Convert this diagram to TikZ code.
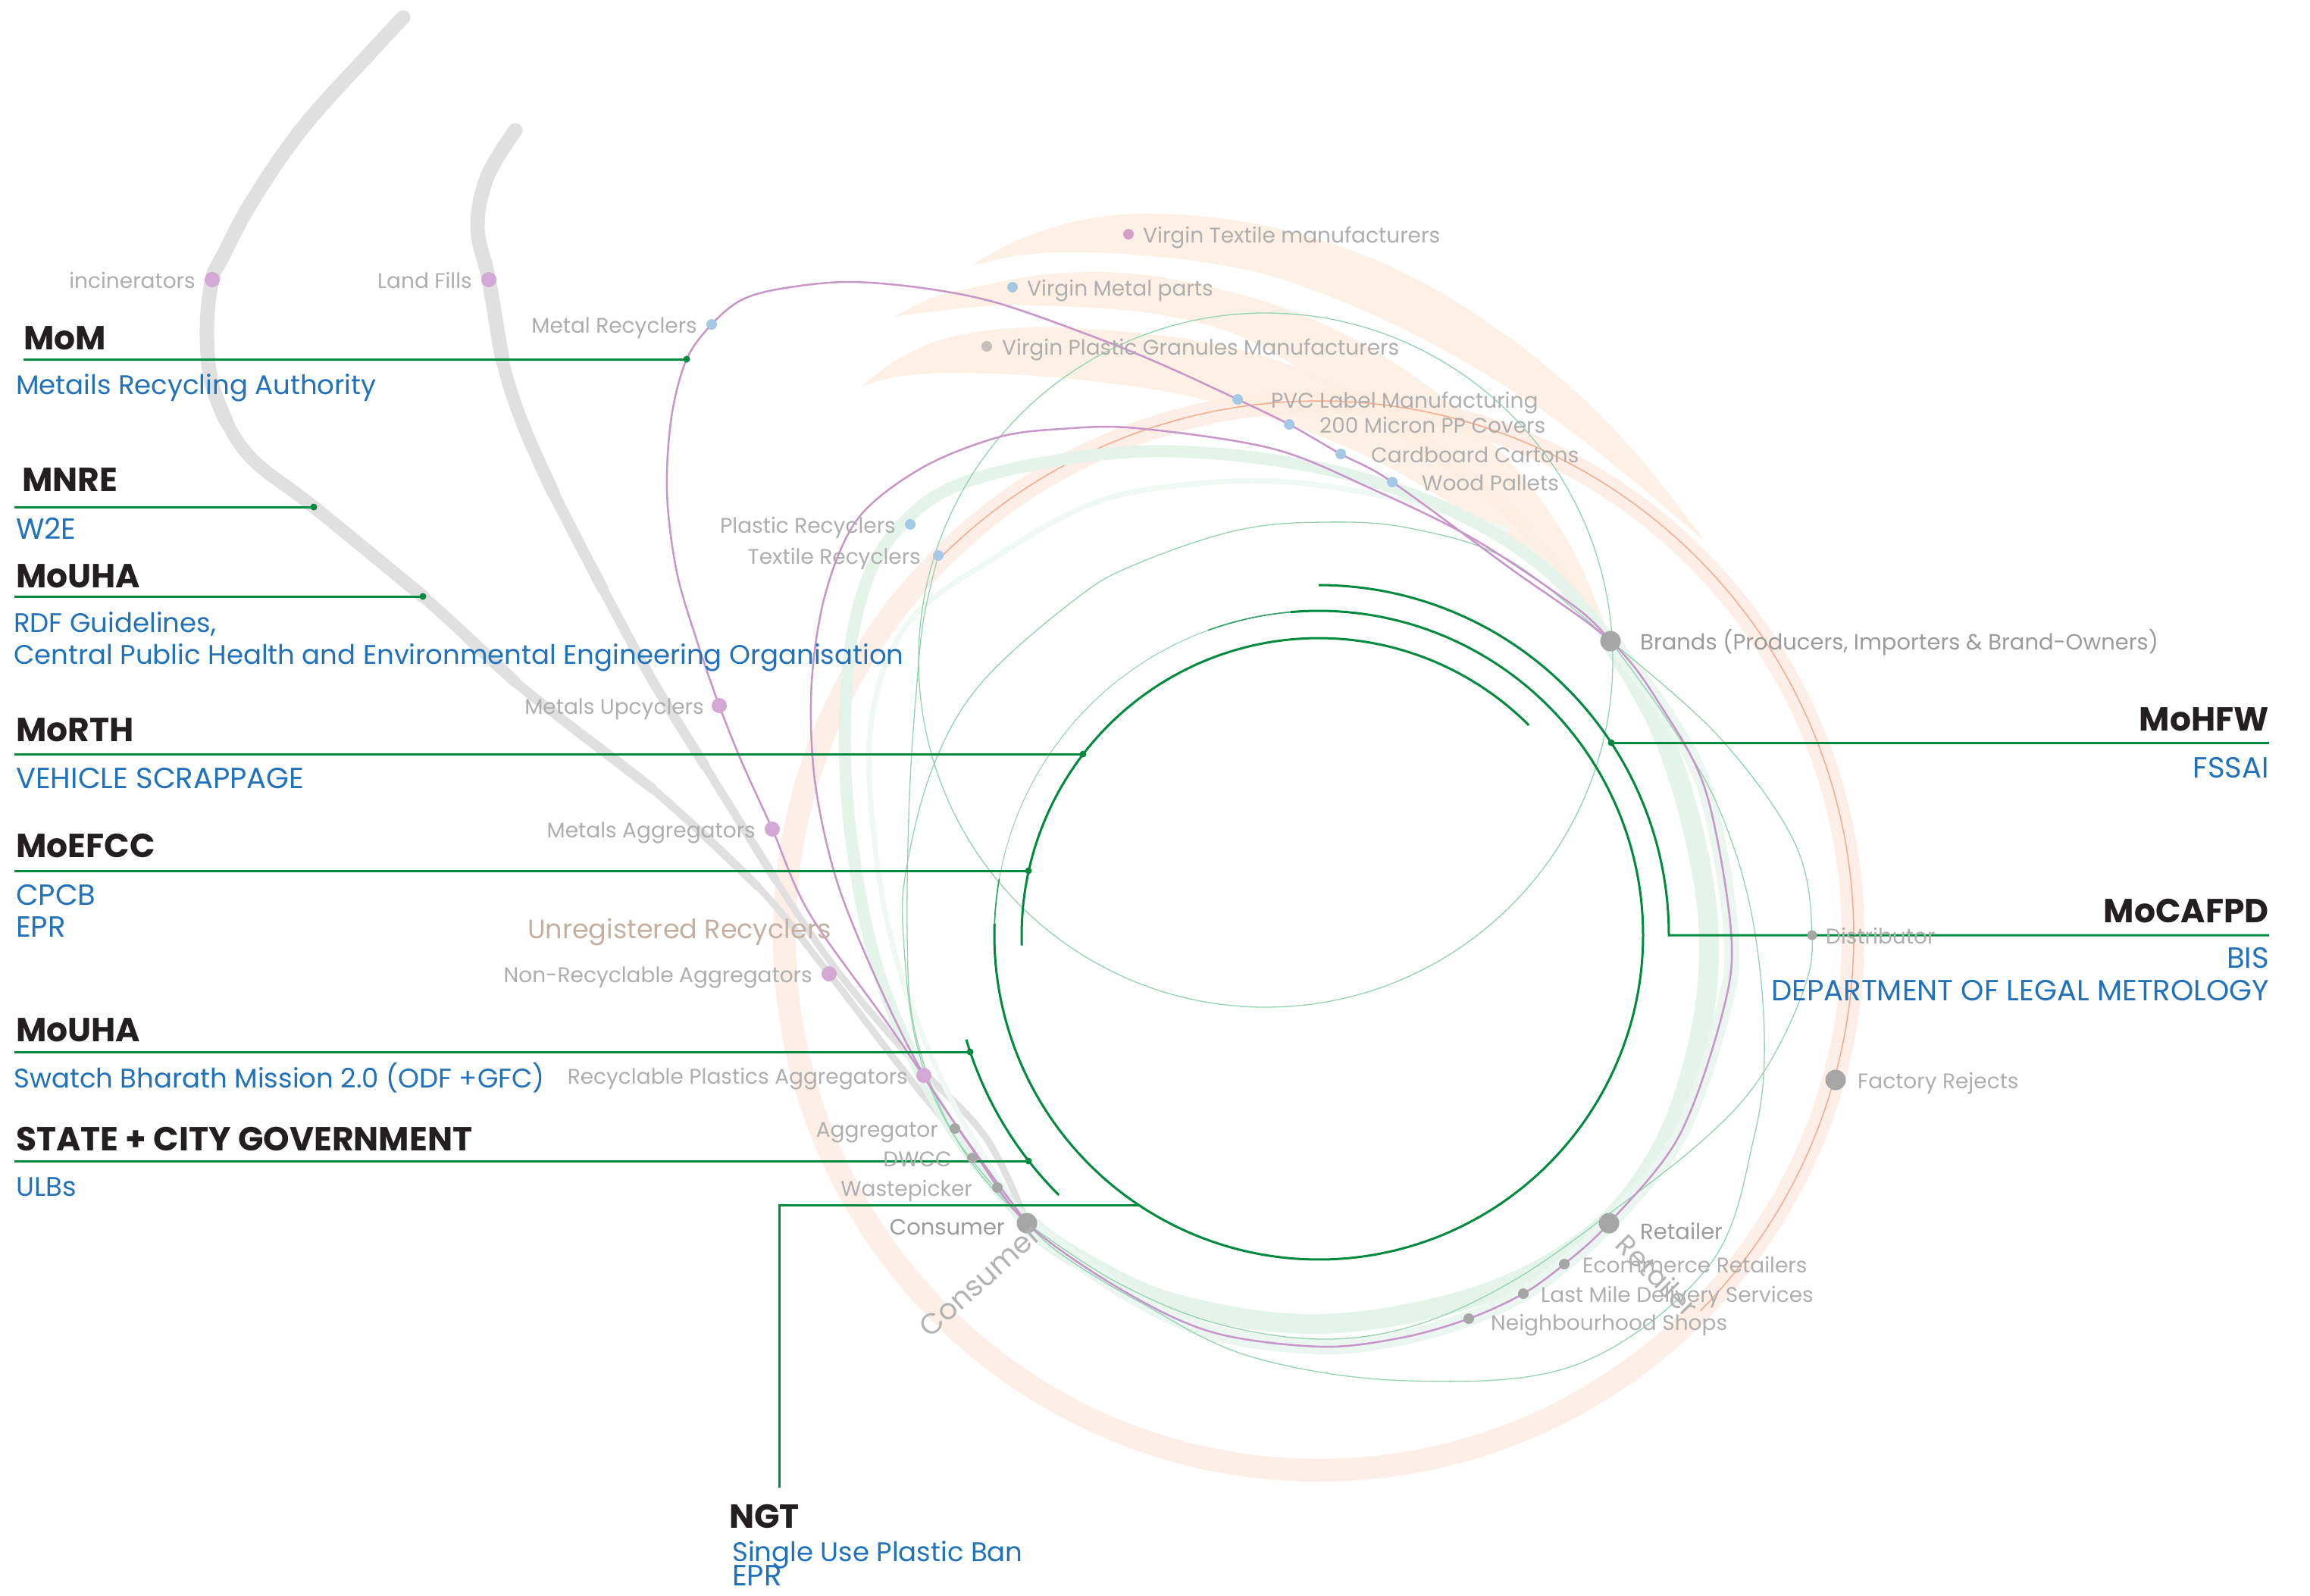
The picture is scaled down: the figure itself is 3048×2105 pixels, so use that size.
\documentclass[tikz,border=0pt]{standalone}
\usepackage{fontspec}
\setmainfont{Poppins}
\usetikzlibrary{calc}
\definecolor{dgreen}{RGB}{0,138,62}
\definecolor{headc}{RGB}{35,31,32}
\definecolor{bluec}{RGB}{33,113,187}
\definecolor{labc}{RGB}{174,174,174}
\definecolor{labdark}{RGB}{155,155,155}
\definecolor{pinkdot}{RGB}{212,168,212}
\definecolor{vtexc}{RGB}{214,160,198}
\definecolor{bluedot}{RGB}{165,200,229}
\definecolor{graydot}{RGB}{166,166,166}
\definecolor{vplc}{RGB}{196,191,186}
\definecolor{purp}{RGB}{200,150,200}
\definecolor{graythick}{RGB}{224,224,224}
\definecolor{peach}{RGB}{253,238,224}
\definecolor{salmon}{RGB}{253,238,232}
\definecolor{orangethin}{RGB}{247,170,140}
\definecolor{lgband}{RGB}{229,244,235}
\definecolor{gthin}{RGB}{148,211,177}
\definecolor{unreg}{RGB}{196,176,162}
\tikzset{
  gline/.style={dgreen, line width=3pt},
  gdot/.style={circle, fill=dgreen, inner sep=0pt, minimum size=9pt},
  pdot/.style={circle, fill=pinkdot, inner sep=0pt, minimum size=20pt},
  bdot/.style={circle, fill=bluedot, inner sep=0pt, minimum size=14pt},
  sdot/.style={circle, fill=graydot, inner sep=0pt, minimum size=14pt},
  bigdot/.style={circle, fill=graydot, inner sep=0pt, minimum size=27pt},
  lab/.style={text=labc, font=\fontsize{28}{34}\selectfont, inner sep=0pt, yshift=-9pt},
  labm/.style={text=labdark, font=\fontsize{29}{34}\selectfont, inner sep=0pt, yshift=-9pt},
  head/.style={text=headc, font=\fontsize{44}{50}\selectfont\bfseries, inner sep=0pt, anchor=base west},
  headr/.style={head, anchor=base east},
  sub/.style={text=bluec, font=\fontsize{35.5}{40}\selectfont, inner sep=0pt, anchor=base west},
  subcaps/.style={sub, font=\fontsize{38.5}{40}\selectfont},
  subr/.style={sub, anchor=base east},
  subcapsr/.style={subcaps, anchor=base east},
  gthinline/.style={gthin, line width=1.3pt},
  grayband/.style={graythick, line cap=round},
  purpline/.style={purp, line width=2.5pt},
  crescent/.style={fill=peach, fill opacity=0.8}
}
\begin{document}
\begin{tikzpicture}[x=1pt,y=-1pt]
\useasboundingbox (0,0) rectangle (3048,2105);
\fill[white] (0,0) rectangle (3048,2105);

% ---- coordinates of the dots
\coordinate (cIncin) at (280,369);
\coordinate (cLand) at (645,369);
\coordinate (cMetRec) at (939,428);
\coordinate (cVTex) at (1489,309);
\coordinate (cVMet) at (1336,379);
\coordinate (cVPla) at (1302,457);
\coordinate (cPVC) at (1633,527);
\coordinate (cPP) at (1701,560);
\coordinate (cCard) at (1769,599);
\coordinate (cWood) at (1837,636);
\coordinate (cPlRec) at (1201,692);
\coordinate (cTxRec) at (1238,733);
\coordinate (cBrands) at (2125,846);
\coordinate (cMetUp) at (949,931);
\coordinate (cMetAgg) at (1019,1094);
\coordinate (cNonRec) at (1094,1285);
\coordinate (cRecPl) at (1219,1419);
\coordinate (cAggr) at (1260,1489);
\coordinate (cDwcc) at (1283,1528);
\coordinate (cWpick) at (1316,1567);
\coordinate (cCons) at (1355,1614);
\coordinate (cRet) at (2123,1614);
\coordinate (cEcom) at (2064,1668);
\coordinate (cLast) at (2010,1707);
\coordinate (cNeigh) at (1938,1740);
\coordinate (cDist) at (2391,1234);
\coordinate (cFact) at (2422,1425);
% green connector points
\coordinate (cMoM) at (906,474);
\coordinate (cMNRE) at (414,669);
\coordinate (cMoUHA) at (558,787);
\coordinate (cMoRTH) at (1429,995);
\coordinate (cMoEFCC) at (1357,1149);
\coordinate (cMoUHAb) at (1280,1388);
\coordinate (cState) at (1357,1532);
\coordinate (cMoHFW) at (2126,980);
\coordinate (cNGT) at (1502.4,1590);

% ---- big salmon ring
\draw[salmon, line width=30pt] (1740,1235) circle[radius=705pt];

% ---- peach crescents
\fill[crescent] plot[smooth, tension=0.6] coordinates {(1283,350) (1340,318) (1420,292) (1500,282) (1600,287) (1700,305) (1820,345) (1940,410) (2060,500) (2160,600) (2250,715)}
  -- plot[smooth, tension=0.6] coordinates {(2250,715) (2150,630) (2040,545) (1920,470) (1800,410) (1680,365) (1580,345) (1480,335) (1400,333) (1340,338) (1283,350)} -- cycle;
\fill[crescent] plot[smooth, tension=0.6] coordinates {(1180,418) (1230,393) (1291,378) (1380,362) (1480,360) (1580,375) (1690,405) (1800,455) (1910,530) (2010,630) (2080,735) (2125,846)}
  -- plot[smooth, tension=0.6] coordinates {(2125,846) (2050,745) (1960,660) (1860,585) (1750,510) (1640,445) (1530,415) (1420,405) (1320,403) (1240,410) (1180,418)} -- cycle;
\fill[crescent] plot[smooth, tension=0.6] coordinates {(1137,510) (1183,475) (1250,446) (1350,432) (1450,435) (1550,445) (1650,465) (1760,505) (1870,565) (1970,645) (2060,745) (2125,846)}
  -- plot[smooth, tension=0.6] coordinates {(2125,846) (2030,750) (1930,675) (1820,610) (1700,560) (1580,525) (1460,505) (1350,495) (1250,492) (1183,497) (1137,510)} -- cycle;

% ---- thin orange arc
\draw[orangethin, line width=1.5pt] plot[domain=135:-44.5, samples=150] ({1740+706*cos(\x)},{1235-706*sin(\x)});

% ---- gray thick bands (tapered by overlapping layers)
\draw[grayband, line width=9pt] plot[smooth, tension=0.6] coordinates {(532,23) (490,68) (400,168) (333,265) (293,340) (cIncin) (273,430) (278,500) (298,555) (335,608) (cMNRE) (cMoUHA) (680,900) (860,1040) (1000,1170) (cNonRec) (1190,1410) (1280,1520) (cCons)};
\draw[grayband, line width=11pt] plot[smooth, tension=0.6] coordinates {(532,23) (490,68) (400,168) (333,265) (293,340) (cIncin) (273,430) (278,500) (298,555) (335,608) (cMNRE) (cMoUHA) (680,900) (860,1040) (1000,1170)};
\draw[grayband, line width=13pt] plot[smooth, tension=0.6] coordinates {(532,23) (490,68) (400,168) (333,265) (293,340) (cIncin) (273,430) (278,500) (298,555) (335,608) (cMNRE) (cMoUHA) (680,900) (860,1040)};
\draw[grayband, line width=15pt] plot[smooth, tension=0.6] coordinates {(532,23) (490,68) (400,168) (333,265) (293,340) (cIncin) (273,430) (278,500) (298,555) (335,608) (cMNRE) (cMoUHA) (680,900)};
\draw[grayband, line width=17pt] plot[smooth, tension=0.6] coordinates {(532,23) (490,68) (400,168) (333,265) (293,340) (cIncin) (273,430) (278,500) (298,555) (335,608) (cMNRE) (cMoUHA)};
\draw[grayband, line width=19pt] plot[smooth, tension=0.6] coordinates {(532,23) (490,68) (400,168) (333,265) (293,340) (cIncin) (273,430) (278,500) (298,555)};
\draw[grayband, line width=9pt] plot[smooth, tension=0.6] coordinates {(680,172) (643,233) (630,300) (cLand) (663,476) (690,560) (730,650) (796,778) (862,900) (930,1010) (1024,1162) (1104,1280) (1205,1400) (1300,1500) (cCons)};
\draw[grayband, line width=11pt] plot[smooth, tension=0.6] coordinates {(680,172) (643,233) (630,300) (cLand) (663,476) (690,560) (730,650) (796,778) (862,900) (930,1010) (1024,1162)};
\draw[grayband, line width=13pt] plot[smooth, tension=0.6] coordinates {(680,172) (643,233) (630,300) (cLand) (663,476) (690,560) (730,650) (796,778) (862,900) (930,1010)};
\draw[grayband, line width=15pt] plot[smooth, tension=0.6] coordinates {(680,172) (643,233) (630,300) (cLand) (663,476) (690,560) (730,650) (796,778)};
\draw[grayband, line width=17pt] plot[smooth, tension=0.6] coordinates {(680,172) (643,233) (630,300) (cLand) (663,476) (690,560) (730,650)};
\draw[grayband, line width=19pt] plot[smooth, tension=0.6] coordinates {(680,172) (643,233) (630,300) (cLand) (663,476)};

% ---- light green bands
\draw[lgband!60, line width=7pt] plot[smooth, tension=0.6] coordinates {(1990,700) (1850,660) (1700,636) (1560,640) (1440,665) (1317,733) (1200,820) (1150,950) (1155,1120) (1190,1290) (1260,1460) (cCons)};
\draw[lgband, line width=16pt] plot[smooth, tension=0.6] coordinates {(cCons) (1250,1480) (1165,1300) (1125,1120) (1115,950) (1133,800) (1183,700) (1283,633) (1500,596) (1723,614) (1902,668) (2036,748) (cBrands)};
\draw[lgband, line width=26pt] plot[smooth, tension=0.6] coordinates {(cBrands) (2190,960) (2235,1100) (2255,1240) (2240,1380) (2190,1520) (2100,1630) (1950,1710) (1743,1747) (1550,1720) (1420,1660) (cCons)};
\draw[lgband!80, line width=20pt] plot[smooth, tension=0.6] coordinates {(cBrands) (2193,934) (2251,1045) (2284,1229) (2273,1336) (2215,1500) (cRet) (cEcom) (cLast) (cNeigh) (1850,1765) (1743,1777) (1600,1758) (1480,1702) (cCons)};

% ---- thin green lines
\draw[gthinline] (1670,871) circle[radius=458pt];
\draw[gthinline] plot[smooth, tension=0.6] coordinates {(cBrands) (2266,970) (2368,1112) (cDist) (2377,1314) (2323,1421) (2252,1500) (2136,1592) (2000,1688) (1870,1748) (1743,1767) (1600,1745) (1470,1690) (cCons)};
\draw[gthinline] plot[smooth, tension=0.6] coordinates {(cBrands) (2200,950) (2265,1060) (2310,1200) (2328,1368) (2314,1502) (2255,1670) (2082,1800) (1859,1822) (1650,1790) (1502,1717) (1400,1655) (cCons)};
\draw[gthinline] plot[smooth, tension=0.6] coordinates {(cTxRec) (1219,815) (1210,900) (1200,1050) (1197,1234) (1205,1350) (1240,1460) (1290,1545) (cCons)};
\draw[gthinline] plot[smooth, tension=0.6] coordinates {(cBrands) (1991,739) (1860,697) (1745,689) (1631,700) (1500,744) (1421,789) (1295,901) (1231,1012) (1196,1146) (1192,1236) (1210,1380) (1260,1500) (cCons)};

% ---- purple lines
\draw[purpline] plot[smooth cycle, tension=0.55] coordinates {(cCons) (1280,1512) (1180,1363) (1069,1207) (cMetAgg) (979,1006) (cMetUp) (921,850) (893,755) (880,650) (886,550) (cMoM) (cMetRec) (978,396) (1030,381) (1117,372) (1217,380) (1317,400) (1450,447) (1540,484) (cPVC) (cPP) (cCard) (cWood) (1990,748) (cBrands) (2193,934) (2251,1045) (2284,1229) (2273,1336) (2215,1500) (cRet) (cEcom) (cLast) (cNeigh) (1850,1765) (1743,1777) (1600,1758) (1480,1702)};
\draw[purpline] plot[smooth, tension=0.55] coordinates {(cBrands) (2080,802) (1946,712) (1812,646) (1679,592) (1500,565) (1400,566) (1317,577) (1217,617) (1133,683) (1090,780) (1071,900) (1075,1029) (1104,1162) (1158,1296) (cRecPl) (1290,1525) (cCons)};

% ---- dark green arcs
\draw[gline] plot[domain=90:0, samples=100] ({1740+462*cos(\x)},{1234-462*sin(\x)}) -- (2994,1234);
\draw[gline] plot[domain=45:182, samples=120] ({1740+392*cos(\x)},{1234-392*sin(\x)});
\draw[gline] plot[domain=178:455, samples=240] ({1740+428*cos(\x)},{1234-428*sin(\x)});
\draw[dgreen!80, line width=1.7pt] plot[domain=95:110, samples=20] ({1740+428*cos(\x)},{1234-428*sin(\x)});
\draw[dgreen!45, line width=0.9pt] plot[domain=110:170, samples=60] ({1740+428*cos(\x)},{1234-428*sin(\x)});
\draw[dgreen!80, line width=1.7pt] plot[domain=170:178, samples=10] ({1740+428*cos(\x)},{1234-428*sin(\x)});
\draw[gline] plot[domain=196.5:225, samples=40] ({1740+485*cos(\x)},{1234-485*sin(\x)});

% ---- green connectors
\coordinate (sMoM) at (31,474);
\coordinate (sMNRE) at (19,669);
\coordinate (sMoUHA) at (19,787);
\coordinate (sMoRTH) at (19,995);
\coordinate (sMoEFCC) at (19,1149);
\coordinate (sMoUHAb) at (19,1388);
\coordinate (sState) at (19,1532);
\coordinate (sMoHFW) at (2994,980);
\coordinate (sNGT) at (1028,1963);
\draw[gline] (sMoM) -- (cMoM);
\draw[gline] (sMNRE) -- (cMNRE);
\draw[gline] (sMoUHA) -- (cMoUHA);
\draw[gline] (sMoRTH) -- (cMoRTH);
\draw[gline] (sMoEFCC) -- (cMoEFCC);
\draw[gline] (sMoUHAb) -- (cMoUHAb);
\draw[gline] (sState) -- (cState);
\draw[gline] (cMoHFW) -- (sMoHFW);
\draw[gline] (sNGT) |- (cNGT);
\foreach \p in {cMoM,cMNRE,cMoUHA,cMoRTH,cMoEFCC,cMoUHAb,cState,cMoHFW}
  \node[gdot] at (\p) {};

% ---- dots
\node[pdot] (incin) at (cIncin) {};
\node[pdot] (landf) at (cLand) {};
\node[bdot] (metrec) at (cMetRec) {};
\node[bdot, fill=vtexc] (vtex) at (cVTex) {};
\node[bdot] (vmet) at (cVMet) {};
\node[bdot, fill=vplc] (vpla) at (cVPla) {};
\node[bdot] (pvc) at (cPVC) {};
\node[bdot] (pp) at (cPP) {};
\node[bdot] (card) at (cCard) {};
\node[bdot] (wood) at (cWood) {};
\node[bdot] (plrec) at (cPlRec) {};
\node[bdot] (txrec) at (cTxRec) {};
\node[bigdot] (brands) at (cBrands) {};
\node[pdot] (metup) at (cMetUp) {};
\node[pdot] (metagg) at (cMetAgg) {};
\node[pdot] (nonrec) at (cNonRec) {};
\node[pdot] (recpl) at (cRecPl) {};
\node[sdot] (aggr) at (cAggr) {};
\node[sdot] (dwcc) at (cDwcc) {};
\node[sdot] (wpick) at (cWpick) {};
\node[bigdot] (cons) at (cCons) {};
\node[bigdot] (ret) at (cRet) {};
\node[sdot] (ecom) at (cEcom) {};
\node[sdot] (lastm) at (cLast) {};
\node[sdot] (neigh) at (cNeigh) {};
\node[sdot, minimum size=13pt] (dist) at (cDist) {};
\node[bigdot] (fact) at (cFact) {};

% ---- gray labels
\node[lab, anchor=mid east] (lIncin) at ([xshift=-22pt]incin.center) {incinerators};
\node[lab, anchor=mid east] (lLand) at ([xshift=-22pt]landf.center) {Land Fills};
\node[lab, anchor=mid east] (lMetRec) at ([xshift=-19pt]metrec.center) {Metal Recyclers};
\node[lab, anchor=mid east] (lPlRec) at ([xshift=-19pt]plrec.center) {Plastic Recyclers};
\node[lab, anchor=mid east] (lTxRec) at ([xshift=-23pt]txrec.center) {Textile Recyclers};
\node[lab, anchor=mid east] (lMetUp) at ([xshift=-20pt]metup.center) {Metals Upcyclers};
\node[lab, anchor=mid east] (lMetAgg) at ([xshift=-22pt]metagg.center) {Metals Aggregators};
\node[lab, anchor=mid east] (lNonRec) at ([xshift=-22pt]nonrec.center) {Non-Recyclable Aggregators};
\node[lab, anchor=mid east] (lRecPl) at ([xshift=-21pt]recpl.center) {Recyclable Plastics Aggregators};
\node[lab, anchor=mid east] (lAggr) at ([xshift=-22pt]aggr.center) {Aggregator};
\node[lab, anchor=mid east] (lDwcc) at ([xshift=-27pt]dwcc.center) {DWCC};
\node[lab, anchor=mid east] (lWpick) at ([xshift=-33pt]wpick.center) {Wastepicker};
\node[labm, anchor=mid east] (lCons) at ([xshift=-29pt,yshift=-4pt]cons.center) {Consumer};
\node[lab, anchor=mid west] (lVTex) at ([xshift=19pt]vtex.center) {Virgin Textile manufacturers};
\node[lab, anchor=mid west] (lVMet) at ([xshift=19pt]vmet.center) {Virgin Metal parts};
\node[lab, anchor=mid west] (lVPla) at ([xshift=20pt]vpla.center) {Virgin Plastic Granules Manufacturers};
\node[lab, anchor=mid west] (lPVC) at ([xshift=44pt]pvc.center) {PVC Label Manufacturing};
\node[lab, anchor=mid west] (lPP) at ([xshift=40pt]pp.center) {200 Micron PP Covers};
\node[lab, anchor=mid west] (lCard) at ([xshift=40pt]card.center) {Cardboard Cartons};
\node[lab, anchor=mid west] (lWood) at ([xshift=39pt]wood.center) {Wood Pallets};
\node[labm, anchor=mid west] (lBrands) at ([xshift=39pt]brands.center) {Brands (Producers, Importers \& Brand-Owners)};
\node[lab, anchor=mid west] (lDist) at ([xshift=18pt]dist.center) {Distributor};
\node[lab, anchor=mid west] (lFact) at ([xshift=29pt]fact.center) {Factory Rejects};
\node[labm, anchor=mid west] (lRet) at ([xshift=41pt,yshift=-10pt]ret.center) {Retailer};
\node[lab, anchor=mid west] (lEcom) at ([xshift=24pt]ecom.center) {Ecommerce Retailers};
\node[lab, anchor=mid west] (lLast) at ([xshift=23pt]lastm.center) {Last Mile Delivery Services};
\node[lab, anchor=mid west] (lNeigh) at ([xshift=29pt,yshift=-4pt]neigh.center) {Neighbourhood Shops};
\node[text=unreg, font=\fontsize{35}{40}\selectfont, inner sep=0pt, anchor=base west] (lUnreg) at (696,1238) {Unregistered Recyclers};
\node[text=graydot!85, font=\fontsize{38}{40}\selectfont, inner sep=0pt, rotate=42] (rotCons) at (1293,1690) {Consumer};
\node[text=graydot!85, font=\fontsize{36}{40}\selectfont, inner sep=0pt, rotate=-45] (rotRet) at (2187,1683) {Retailer};

% ---- headings and blue texts
\node[head] (hMoM) at (31,461) {MoM};
\node[sub] (tMoM) at (21,520) {Metails Recycling Authority};
\node[head] (hMNRE) at (29,648) {MNRE};
\node[subcaps] (tMNRE) at (21,711) {W2E};
\node[head] (hMoUHA) at (21,775) {MoUHA};
\node[sub] (tRDF) at (18,834) {RDF Guidelines,};
\node[sub] (tCPH) at (18,876) {Central Public Health and Environmental Engineering Organisation};
\node[head] (hMoRTH) at (21,978) {MoRTH};
\node[subcaps] (tVS) at (21,1040) {VEHICLE SCRAPPAGE};
\node[head] (hMoEFCC) at (21,1131) {MoEFCC};
\node[subcaps] (tCPCB) at (21,1194) {CPCB};
\node[subcaps] (tEPR) at (21,1236) {EPR};
\node[head] (hMoUHAb) at (21,1374) {MoUHA};
\node[sub] (tSBM) at (18,1435) {Swatch Bharath Mission 2.0 (ODF +GFC)};
\node[head] (hState) at (21,1518) {STATE + CITY GOVERNMENT};
\node[sub] (tULB) at (21,1578) {ULBs};
\node[head] (hNGT) at (962,2016) {NGT};
\node[sub] (tSUP) at (966,2060) {Single Use Plastic Ban};
\node[subcaps] (tEPRb) at (966,2092) {EPR};
\node[headr] (hMoHFW) at (2994,964) {MoHFW};
\node[subcapsr] (tFSSAI) at (2994,1026) {FSSAI};
\node[headr] (hMoCAFPD) at (2994,1217) {MoCAFPD};
\node[subcapsr] (tBIS) at (2994,1277) {BIS};
\node[subcapsr] (tDLM) at (2994,1320) {DEPARTMENT OF LEGAL METROLOGY};
\end{tikzpicture}
\end{document}
